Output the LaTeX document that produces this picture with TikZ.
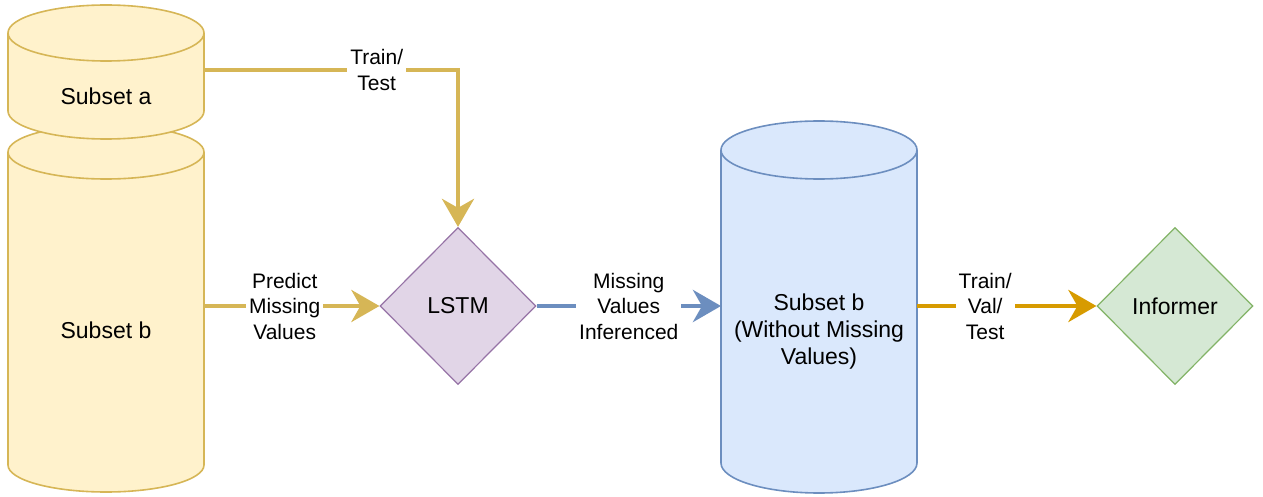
\documentclass[tikz,border=0pt]{standalone}
\usepackage{fontspec}
\setmainfont{Liberation Sans}
\usepackage{tikz}
\usetikzlibrary{calc}
\usetikzlibrary{arrows.meta}
\usetikzlibrary{positioning}
\usetikzlibrary{shapes.geometric}
\definecolor{sandline}{RGB}{214, 182, 86}
\definecolor{sandfill}{RGB}{255, 242, 204}
\definecolor{plumline}{RGB}{150, 115, 166}
\definecolor{plumfill}{RGB}{225, 213, 231}
\definecolor{skyline}{RGB}{108, 142, 191}
\definecolor{skyfill}{RGB}{218, 232, 252}
\definecolor{mossline}{RGB}{130, 179, 102}
\definecolor{mossfill}{RGB}{213, 232, 212}
\definecolor{amber}{RGB}{215, 155, 0}

\tikzset{
  boxtext/.style   = {align=center, font=\fontsize{11.5}{13.5}\selectfont},
  edgetext/.style  = {align=center, fill=white, inner sep=1.5pt, font=\fontsize{10.5}{12.75}\selectfont},
  decision/.style  = {diamond, aspect=1, minimum width=78pt, minimum height=78.5pt, inner sep=0pt, line width=0.6pt, boxtext},
  flow/.style      = {line width=2.4pt, -{Stealth[length=14pt, width=16pt, inset=4.5pt]}},
}

\begin{document}
\begin{tikzpicture}[x=0.5pt, y=0.5pt]
            \useasboundingbox (0,0) rectangle (1263,-497);
            % subset b (lower database)
            \filldraw[sandline, fill=sandfill, line width=0.8pt] (  8,-152) -- (  8,-465) arc[start angle=180, end angle=360, x radius=98, y radius=27]
                 -- (204,-152) arc[start angle=0, end angle=180, x radius=98, y radius=27] -- cycle;
            \draw[sandline, line width=0.8pt]                        (  8,-152) arc[start angle=180, end angle=360, x radius=98, y radius=27];
            % subset a (upper database)
            \filldraw[sandline, fill=sandfill, line width=0.8pt] (  8, -33) -- (  8,-111) arc[start angle=180, end angle=360, x radius=98, y radius=28]
                 -- (204, -33) arc[start angle=0, end angle=180, x radius=98, y radius=28] -- cycle;
            \draw[sandline, line width=0.8pt]                        (  8, -33) arc[start angle=180, end angle=360, x radius=98, y radius=28];
            % subset b without missing values
            \filldraw[skyline, fill=skyfill, line width=0.8pt]   (721,-150) -- (721,-463) arc[start angle=180, end angle=360, x radius=98, y radius=30]
                 -- (917,-150) arc[start angle=0, end angle=180, x radius=98, y radius=29] -- cycle;
            \draw[skyline, line width=0.8pt]                         (721,-150) arc[start angle=180, end angle=360, x radius=98, y radius=29];

            \node[boxtext] (suba) at ( 106, -96) {Subset a};
            \node[boxtext] (subb) at ( 106,-330) {Subset b};
            \node[boxtext] (subc) at ( 819,-332) {Subset b\\(Without Missing\\Values)};
            \node[decision, draw=plumline, fill=plumfill] (lstm)     at ( 458,-306) {LSTM};
            \node[decision, draw=mossline, fill=mossfill] (informer) at (1175,-306) {Informer};

            \coordinate (suba-out) at (204, -70);
            \coordinate (subb-out) at (204,-306);
            \coordinate (subc-in)  at (721,-306);
            \coordinate (subc-out) at (917,-306);

            \draw[flow, sandline] (suba-out) -| (lstm.north)   node[edgetext, text=black, pos=0.34] {Train/\\Test};
            \draw[flow, sandline] (subb-out) -- (lstm.west)    node[edgetext, text=black, pos=0.46] {Predict\\Missing\\Values};
            \draw[flow, skyline]  (lstm.east) -- (subc-in)     node[edgetext, text=black, pos=0.5]  {Missing\\Values\\Inferenced};
            \draw[flow, amber]    (subc-out) -- (informer.west) node[edgetext, text=black, pos=0.38] {Train/\\Val/\\Test};
        \end{tikzpicture}
\end{document}
